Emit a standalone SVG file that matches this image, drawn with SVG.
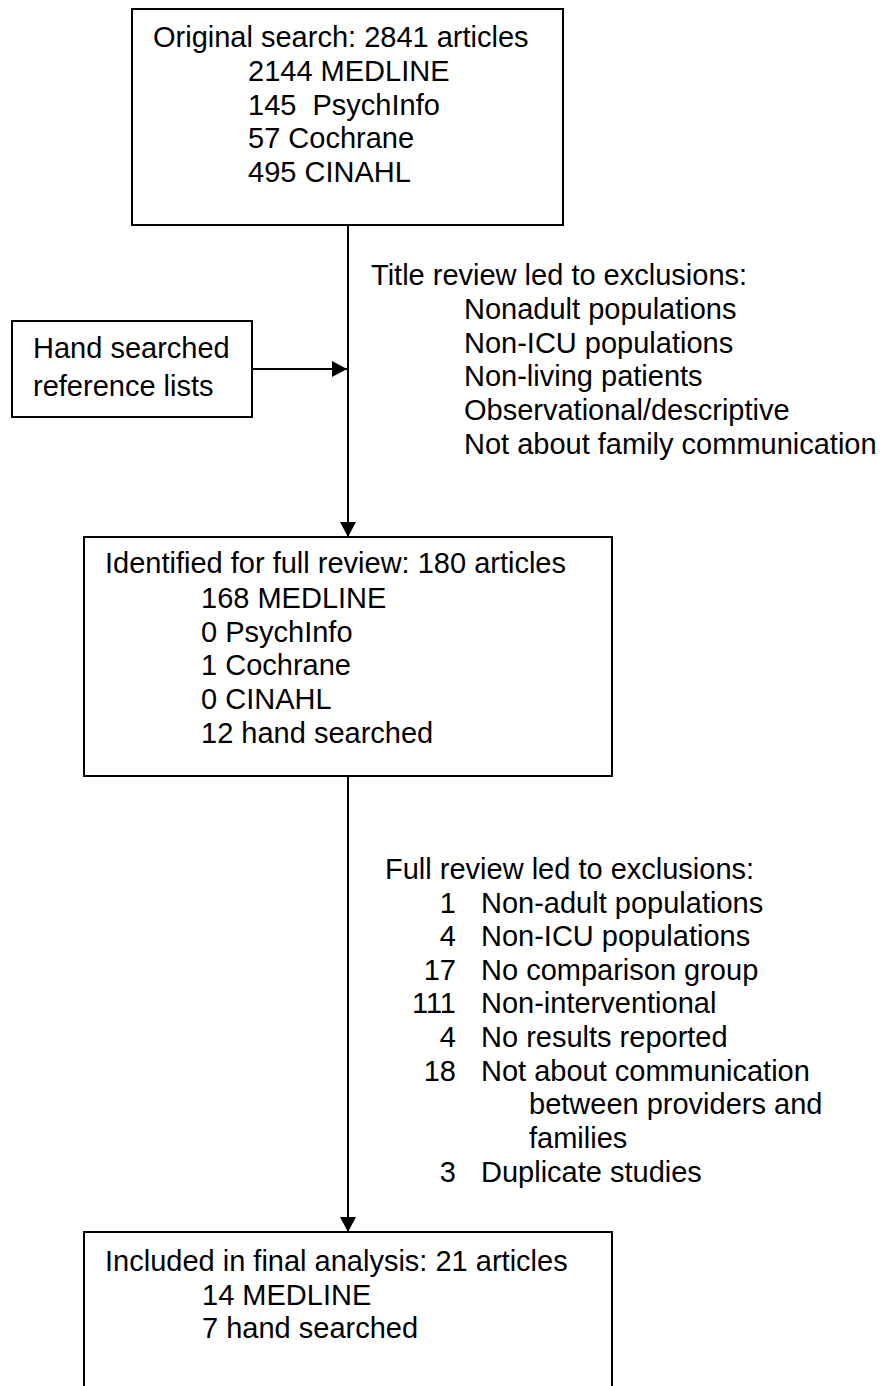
<svg xmlns="http://www.w3.org/2000/svg" width="884" height="1386" viewBox="0 0 884 1386">
<style>
  .box { fill: #ffffff; stroke: #000000; stroke-width: 2; }
  .t { font-family: "Liberation Sans", Arial, sans-serif; font-size: 29px; fill: #000000; }
  .r { text-anchor: end; }
  .conn { stroke: #000000; stroke-width: 2; fill: none; marker-end: url(#arrow); }
</style>
<defs>
  <marker id="arrow" markerUnits="userSpaceOnUse" markerWidth="15" markerHeight="16" refX="15" refY="8" orient="auto">
    <path d="M0,0 L15,8 L0,16 z" fill="#000000"/>
  </marker>
</defs>
<rect width="884" height="1386" fill="#ffffff"/>

<g id="connectors">
  <line class="conn" x1="348" y1="225" x2="348" y2="537"/>
  <line class="conn" x1="252" y1="369" x2="347" y2="369"/>
  <line class="conn" x1="348" y1="776" x2="348" y2="1232"/>
</g>

<g id="original-search">
  <rect class="box" x="132" y="9" width="431" height="216"/>
  <text class="t" x="153" y="47">Original search: 2841 articles</text>
  <text class="t" x="248" y="81">2144 MEDLINE</text>
  <text class="t" x="248" y="115" xml:space="preserve">145  PsychInfo</text>
  <text class="t" x="248" y="148">57 Cochrane</text>
  <text class="t" x="248" y="182">495 CINAHL</text>
</g>

<g id="hand-searched">
  <rect class="box" x="12" y="321" width="240" height="96"/>
  <text class="t" x="33" y="358">Hand searched</text>
  <text class="t" x="33" y="396">reference lists</text>
</g>

<g id="title-exclusions">
  <text class="t" x="371" y="285">Title review led to exclusions:</text>
  <text class="t" x="464" y="319">Nonadult populations</text>
  <text class="t" x="464" y="353">Non-ICU populations</text>
  <text class="t" x="464" y="386">Non-living patients</text>
  <text class="t" x="464" y="420">Observational/descriptive</text>
  <text class="t" x="464" y="454">Not about family communication</text>
</g>

<g id="full-review">
  <rect class="box" x="84" y="537" width="528" height="239"/>
  <text class="t" x="105" y="573">Identified for full review: 180 articles</text>
  <text class="t" x="201" y="608">168 MEDLINE</text>
  <text class="t" x="201" y="642">0 PsychInfo</text>
  <text class="t" x="201" y="675">1 Cochrane</text>
  <text class="t" x="201" y="709">0 CINAHL</text>
  <text class="t" x="201" y="743">12 hand searched</text>
</g>

<g id="full-exclusions">
  <text class="t" x="385" y="879">Full review led to exclusions:</text>
  <text class="t r" x="456" y="913">1</text>
  <text class="t" x="481" y="913">Non-adult populations</text>
  <text class="t r" x="456" y="946">4</text>
  <text class="t" x="481" y="946">Non-ICU populations</text>
  <text class="t r" x="456" y="980">17</text>
  <text class="t" x="481" y="980">No comparison group</text>
  <text class="t r" x="456" y="1013">111</text>
  <text class="t" x="481" y="1013">Non-interventional</text>
  <text class="t r" x="456" y="1047">4</text>
  <text class="t" x="481" y="1047">No results reported</text>
  <text class="t r" x="456" y="1081">18</text>
  <text class="t" x="481" y="1081">Not about communication</text>
  <text class="t" x="529" y="1114">between providers and</text>
  <text class="t" x="529" y="1148">families</text>
  <text class="t r" x="456" y="1182">3</text>
  <text class="t" x="481" y="1182">Duplicate studies</text>
</g>

<g id="final-analysis">
  <rect class="box" x="84" y="1232" width="528" height="170"/>
  <text class="t" x="105" y="1271">Included in final analysis: 21 articles</text>
  <text class="t" x="202" y="1305">14 MEDLINE</text>
  <text class="t" x="202" y="1338">7 hand searched</text>
</g>
</svg>
